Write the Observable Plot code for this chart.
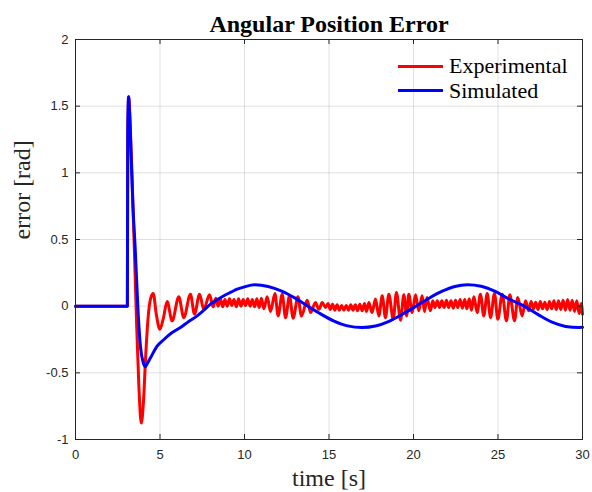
<!DOCTYPE html>
<html><head><meta charset="utf-8">
<script src="https://cdn.jsdelivr.net/npm/d3@7"></script>
<script src="https://cdn.jsdelivr.net/npm/@observablehq/plot@0.6"></script>
<style>
body{margin:0;background:#fff}
#wrap{position:relative;width:592px;height:492px}
.leg{position:absolute;left:398px;font-family:"Liberation Serif",serif;font-size:22px;color:#000;display:flex;align-items:center;white-space:nowrap}
.sw{display:inline-block;width:45px;height:3px;margin-right:6px}
</style>
</head><body><div id="wrap"></div>
<script>
const titleText = "Angular Position Error";
const xLabel = "time [s]";
const yLabel = "error [rad]";
const seriesNames = ["Experimental", "Simulated"];
const seriesColors = ["#ff0000", "#0000ff"];
const xTicks = [0, 5, 10, 15, 20, 25, 30];
const xTickLabels = ["0", "5", "10", "15", "20", "25", "30"];
const yTicks = [-1, -0.5, 0, 0.5, 1, 1.5, 2];
const yTickLabels = ["-1", "-0.5", "0", "0.5", "1", "1.5", "2"];

// Experimental (red) (extrema)
const expTime = [0,3.07,3.09,3.15,3.22,3.35,3.5,3.62,3.75,3.89,4.02,4.15,4.3,4.45,4.6,4.78,4.99,5.2,5.42,5.72,6.11,6.41,6.8,7.04,7.34,7.59,7.93,8.15,8.3,
8.44,8.57,8.71,8.84,8.98,9.11,9.25,9.38,9.52,9.65,9.79,9.92,10.06,10.19,10.33,10.46,10.6,10.73,10.87,11.0,11.15,
11.34,11.54,11.8,11.99,12.23,12.43,12.66,12.88,13.16,13.37,13.71,13.91,14.2,14.4,14.6,14.8,
14.94,15.07,15.21,15.34,15.48,15.61,15.75,15.88,16.02,16.15,16.29,16.42,16.56,16.69,16.83,16.96,17.1,17.22,
17.36,17.55,17.75,17.95,18.15,18.34,18.54,18.8,18.99,19.23,19.43,19.59,19.72,19.92,20.12,20.31,20.51,20.65,20.8,21.0,
21.14,21.27,21.41,21.54,21.68,21.81,21.95,22.08,22.22,22.35,22.49,22.62,22.76,22.89,23.03,23.16,23.3,23.43,
23.57,23.77,23.96,24.16,24.36,24.56,24.79,24.99,25.25,25.5,25.7,25.98,26.17,26.43,26.63,26.82,
26.96,27.1,27.23,27.37,27.5,27.64,27.77,27.91,28.04,28.18,28.31,28.45,28.58,28.72,28.85,28.99,29.12,29.26,29.39,29.53,29.66,29.8,29.93,30];
const expValue = [0,0,1.2,1.57,1.42,0.95,0.35,-0.15,-0.6,-0.877,-0.72,-0.38,-0.08,0.06,0.095,-0.06,-0.173,-0.09,0.035,-0.11,0.07,-0.086,0.09,-0.06,0.09,-0.023,0.085,-0.005,0.06,
0.0,0.055,-0.005,0.05,0.0,0.055,0.005,0.05,-0.005,0.055,0.0,0.05,0.005,0.055,0.0,0.05,-0.005,0.055,-0.01,0.06,-0.02,
0.07,-0.04,0.095,-0.073,0.09,-0.086,0.078,-0.09,0.07,-0.073,0.045,-0.048,0.027,-0.023,0.027,-0.01,
0.02,-0.025,0.015,-0.03,0.01,-0.03,0.005,-0.03,0.005,-0.03,0.01,-0.03,0.01,-0.035,0.015,-0.035,0.02,-0.04,
0.027,-0.048,0.053,-0.073,0.078,-0.086,0.09,-0.098,0.103,-0.105,0.085,-0.073,0.09,-0.048,0.085,-0.035,0.078,-0.04,0.065,-0.035,
0.04,-0.01,0.04,-0.01,0.04,-0.01,0.045,-0.01,0.04,-0.015,0.045,-0.01,0.05,-0.015,0.05,-0.02,0.055,-0.03,
0.07,-0.048,0.09,-0.073,0.095,-0.086,0.095,-0.098,0.09,-0.11,0.085,-0.11,0.065,-0.073,0.04,-0.035,
0.035,-0.02,0.03,-0.025,0.035,-0.02,0.03,-0.025,0.035,-0.02,0.04,-0.025,0.04,-0.025,0.045,-0.03,0.05,-0.03,0.045,-0.04,0.04,-0.055,0.02,-0.06];

// Simulated (blue)
const simTime = [0,3.07,3.09,3.14,3.2,3.3,3.4,3.53,3.71,3.85,4.0,4.12,4.25,4.44,4.83,5.23,5.7,6.21,6.7,7.2,7.6,7.99,8.4,8.78,9.2,9.57,10.0,10.6,
11.4,12.2,13.0,13.75,14.5,15.3,16.1,16.95,17.75,18.55,19.35,20.15,20.9,21.7,22.45,23.2,24.0,24.8,25.7,26.55,27.4,28.2,29.0,29.8,30];
const simValue = [0,0,1.3,1.57,1.45,1.1,0.75,0.44,-0.06,-0.31,-0.42,-0.455,-0.43,-0.387,-0.3,-0.25,-0.2,-0.16,-0.115,-0.073,-0.03,0.015,0.05,0.078,0.105,0.128,0.145,0.16,
0.148,0.113,0.06,0,-0.058,-0.112,-0.148,-0.16,-0.149,-0.114,-0.06,0,0.058,0.112,0.148,0.16,0.149,0.112,0.05,0,-0.065,-0.12,-0.152,-0.16,-0.159];

const expRows = expTime.map((t, i) => ({t, v: expValue[i]}));
const simRows = simTime.map((t, i) => ({t, v: simValue[i]}));

const W = 592, H = 492, mL = 75, mR = 10, mT = 39, mB = 53;
const fw = W - mL - mR, fh = H - mT - mB, tk = 5;
const axisColor = "#262626";
const serif = "Liberation Serif";

const chart = Plot.plot({
  width: W, height: H,
  marginLeft: mL, marginRight: mR, marginTop: mT, marginBottom: mB,
  style: {fontFamily: "Liberation Sans", fontSize: "13px", color: axisColor, background: "white"},
  x: {domain: [0, 30]},
  y: {domain: [-1, 2]},
  marks: [
    Plot.gridX(xTicks, {stroke: "#000", strokeOpacity: 0.12}),
    Plot.gridY(yTicks, {stroke: "#000", strokeOpacity: 0.12}),
    Plot.line(expRows, {x: "t", y: "v", stroke: seriesColors[0], strokeWidth: 3, curve: "monotone-x"}),
    Plot.line(simRows, {x: "t", y: "v", stroke: seriesColors[1], strokeWidth: 3, curve: "monotone-x"}),
    Plot.frame({stroke: axisColor, strokeWidth: 1}),
    Plot.tickX(xTicks, {x: d => d, insetTop: fh - tk, stroke: axisColor}),
    Plot.tickX(xTicks, {x: d => d, insetBottom: fh - tk, stroke: axisColor}),
    Plot.tickY(yTicks, {y: d => d, insetRight: fw - tk, stroke: axisColor}),
    Plot.tickY(yTicks, {y: d => d, insetLeft: fw - tk, stroke: axisColor}),
    Plot.axisX(xTicks, {tickSize: 0, tickPadding: 10, label: null, tickFormat: d => xTickLabels[xTicks.indexOf(d)]}),
    Plot.axisY(yTicks, {tickSize: 0, tickPadding: 7, label: null, tickFormat: d => yTickLabels[yTicks.indexOf(d)]}),
    Plot.text([titleText], {frameAnchor: "top", text: d => d, lineAnchor: "middle", dy: -15, fontFamily: serif, fontWeight: "bold", fontSize: 24, fill: "#000"}),
    Plot.text([yLabel], {frameAnchor: "left", text: d => d, lineAnchor: "middle", rotate: -90, dx: -53, fontFamily: serif, fontSize: 24, fill: "#262626"}),
    Plot.text([xLabel], {frameAnchor: "bottom", text: d => d, lineAnchor: "middle", dy: 39, fontFamily: serif, fontSize: 24, fill: "#262626"})
  ]
});
const wrap = document.getElementById("wrap");
wrap.appendChild(chart);
seriesNames.forEach((name, i) => {
  const row = document.createElement("div");
  row.className = "leg";
  row.style.top = (53 + i * 24.5) + "px";
  const sw = document.createElement("span");
  sw.className = "sw";
  sw.style.background = seriesColors[i];
  row.appendChild(sw);
  row.appendChild(document.createTextNode(name));
  wrap.appendChild(row);
});
</script>
</body></html>
